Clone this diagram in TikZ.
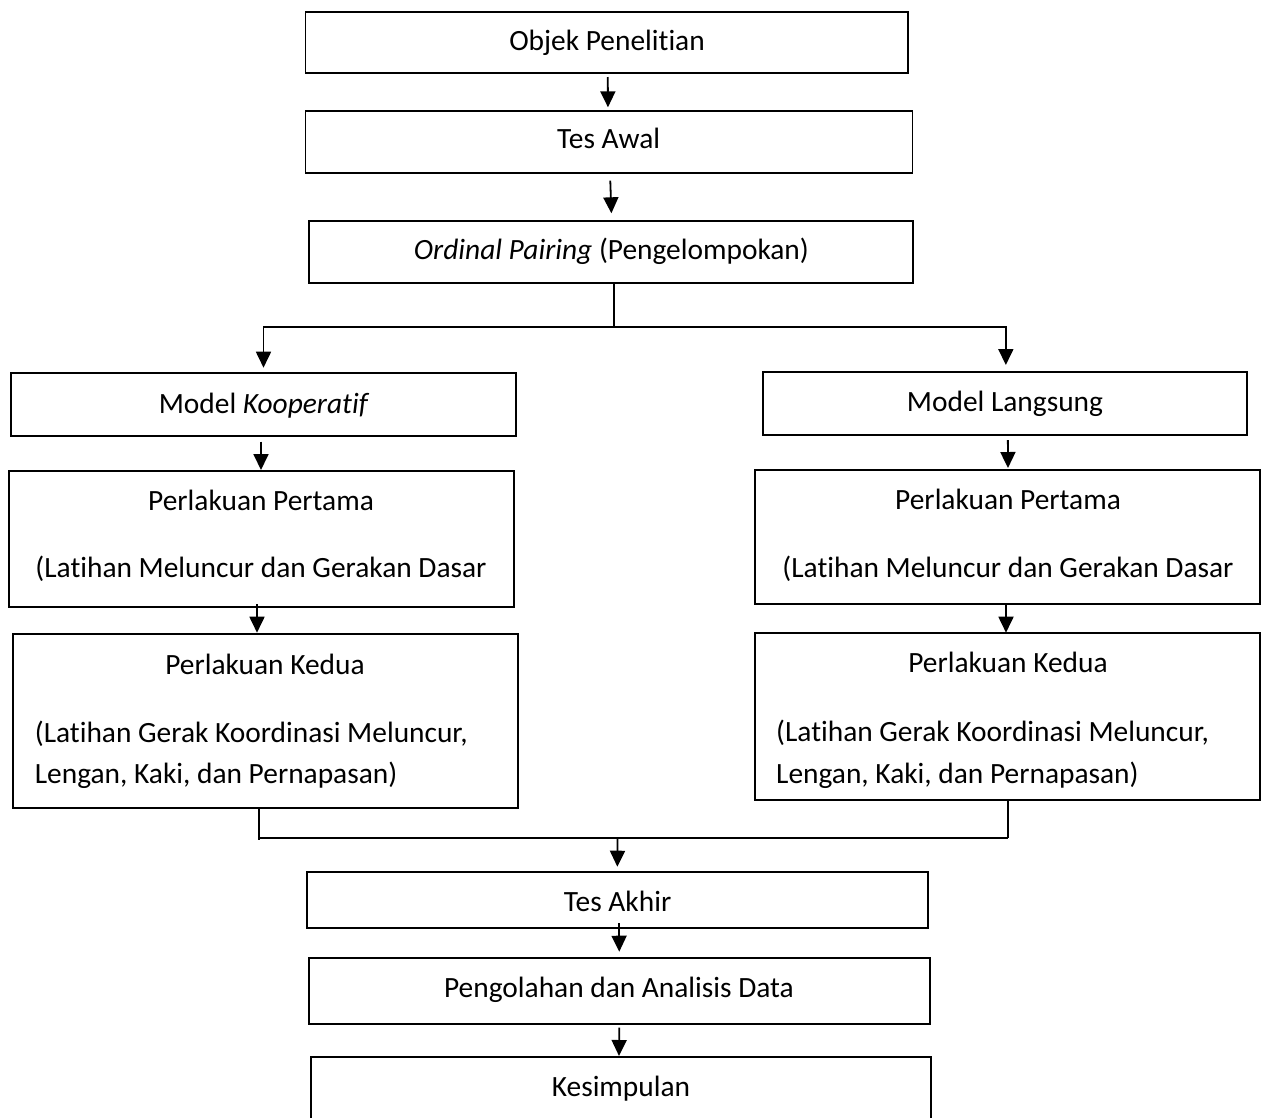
\documentclass[tikz,border=0pt]{standalone}
\usepackage{fontspec}
\setmainfont{Carlito}[Ligatures={NoCommon}]
\usetikzlibrary{arrows.meta}
\begin{document}
\begin{tikzpicture}[x=1pt,y=-1pt,
  box/.style={draw=black, line width=1.8pt, inner sep=0pt, outer sep=0pt},
  txt/.style={inner sep=0pt, font=\fontsize{29.4}{34}\selectfont},
  conn/.style={line width=1.8pt},
  arr/.style={line width=1.8pt, -{Triangle[width=15pt,length=16pt]}}]
\useasboundingbox (0,0) rectangle (1267,1117);
% boxes
\node[box, minimum width=602.5pt, minimum height=61.3pt] (obj) at (606.75,42.35) {};
\node[box, minimum width=607pt, minimum height=61.7pt] (awal) at (609,141.85) {};
\node[box, minimum width=604pt, minimum height=62pt] (ord) at (610.65,251.7) {};
\node[box, minimum width=505pt, minimum height=63pt] (mk) at (263.5,404.5) {};
\node[box, minimum width=483.7pt, minimum height=63.3pt] (ml) at (1004.85,403.35) {};
\node[box, minimum width=505pt, minimum height=136pt] (ppa) at (261.5,538.7) {};
\node[box, minimum width=505pt, minimum height=134pt] (ppb) at (1007.5,537) {};
\node[box, minimum width=504.6pt, minimum height=174pt] (pka) at (265.3,721) {};
\node[box, minimum width=505pt, minimum height=167pt] (pkb) at (1007.5,716.5) {};
\node[box, minimum width=621pt, minimum height=55.7pt] (akhir) at (617.3,899.85) {};
\node[box, minimum width=621pt, minimum height=66.3pt] (olah) at (619.35,990.85) {};
\node[box, minimum width=620pt, minimum height=73pt] (kes) at (621,1093.5) {};
% texts
\node[txt, anchor=base] (tobj) at (607,50.5) {Objek Penelitian};
\node[txt, anchor=base] (tawal) at (608.7,148.3) {Tes Awal};
\node[txt, anchor=base] (tord) at (611.4,259.3) {\textit{Ordinal Pairing} (Pengelompokan)};
\node[txt, anchor=base] (tmk) at (264,413.3) {Model \textit{Kooperatif}};
\node[txt, anchor=base] (tml) at (1005,411.7) {Model Langsung};
\node[txt, anchor=base] (tppa1) at (261,510) {Perlakuan Pertama};
\node[txt, anchor=base] (tppa2) at (261,577) {(Latihan Meluncur dan Gerakan Dasar};
\node[txt, anchor=base] (tppb1) at (1008,509.5) {Perlakuan Pertama};
\node[txt, anchor=base] (tppb2) at (1008,577) {(Latihan Meluncur dan Gerakan Dasar};
\node[txt, anchor=base] (tpka1) at (265,674) {Perlakuan Kedua};
\node[txt, anchor=base west] (tpka2) at (34.7,742) {(Latihan Gerak Koordinasi Meluncur,};
\node[txt, anchor=base west] (tpka3) at (34.7,783) {Lengan, Kaki, dan Pernapasan)};
\node[txt, anchor=base] (tpkb1) at (1008,672) {Perlakuan Kedua};
\node[txt, anchor=base west] (tpkb2) at (776,741) {(Latihan Gerak Koordinasi Meluncur,};
\node[txt, anchor=base west] (tpkb3) at (776,783) {Lengan, Kaki, dan Pernapasan)};
\node[txt, anchor=base] (takhir) at (617.6,911) {Tes Akhir};
\node[txt, anchor=base] (tolah) at (619,997) {Pengolahan dan Analisis Data};
\node[txt, anchor=base] (tkes) at (621,1096) {Kesimpulan};
% connectors
\draw[arr, shorten <=4pt, shorten >=3.7pt] ([xshift=1pt]obj.south) -- ([xshift=-1pt]awal.north);
\draw[arr, shorten <=8pt, shorten >=7.4pt] ([xshift=1pt]awal.south) -- ([xshift=1pt]ord.north);
\coordinate (split) at (614,327.3);
\draw[conn] (ord.south -| split) -- (split);
\draw[arr, shorten >=5.3pt] (split) -| (mk.north);
\draw[arr, shorten >=6.7pt] (split) -| ([xshift=1pt]ml.north);
\draw[arr, shorten <=5.7pt, shorten >=0.7pt] ([xshift=-2.5pt]mk.south) -- ([xshift=-0.5pt]ppa.north);
\draw[arr, shorten <=5pt, shorten >=2pt] ([xshift=3pt]ml.south) -- ([xshift=0.5pt]ppb.north);
\draw[arr, shorten <=-2.7pt, shorten >=1.3pt] ([xshift=-4.5pt]ppa.south) -- ([xshift=-8.3pt]pka.north);
\draw[arr, shorten >=0.3pt] ([xshift=-1.5pt]ppb.south) -- ([xshift=-1.5pt]pkb.north);
\coordinate (merge) at (617.6,837.7);
\coordinate (mla) at ([xshift=-6pt]pka.south |- merge);
\coordinate (mlb) at ([xshift=0.5pt]pkb.south |- merge);
\draw[conn] ([xshift=-6pt]pka.south) -- ([yshift=-2pt]mla);
\draw[conn] ([xshift=0.5pt]pkb.south) -- (mlb);
\draw[conn] (mla) -- (mlb);
\draw[arr, shorten >=5.3pt] (merge) -- (akhir.north);
\draw[arr, shorten <=-4.7pt, shorten >=6pt] ([xshift=1.7pt]akhir.south) -- (olah.north);
\draw[arr, shorten <=3.7pt, shorten >=1pt] (olah.south) -- ([xshift=-2pt]kes.north);
\end{tikzpicture}
\end{document}
